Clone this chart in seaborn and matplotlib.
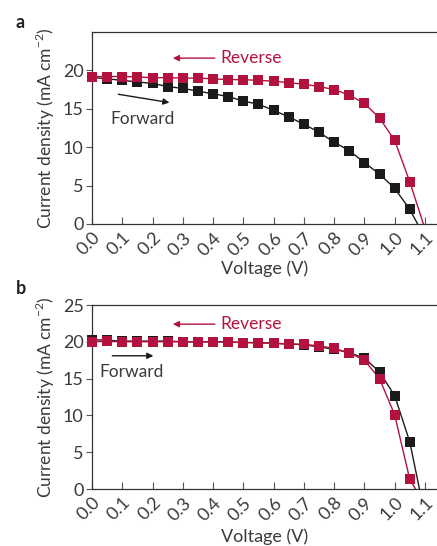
import matplotlib
matplotlib.use("Agg")
import matplotlib.pyplot as plt
import seaborn as sns
import numpy as np

sns.set_theme(style="white")
plt.rcParams['font.family'] = ['Lato', 'DejaVu Sans']
plt.rcParams['mathtext.fontset'] = 'custom'
plt.rcParams['mathtext.rm'] = 'Lato'

# ---- data ----
voltage = [0.00, 0.05, 0.10, 0.15, 0.20, 0.25, 0.30, 0.35, 0.40, 0.45, 0.50,
           0.55, 0.60, 0.65, 0.70, 0.75, 0.80, 0.85, 0.90, 0.95, 1.00, 1.05]

fwd_a = [19.1, 18.9, 18.7, 18.5, 18.3, 17.9, 17.65, 17.3, 16.95, 16.6, 16.0,
         15.6, 14.8, 13.95, 13.0, 11.95, 10.65, 9.55, 8.0, 6.5, 4.65, 1.9]
rev_a = [19.2, 19.2, 19.2, 19.15, 19.05, 19.05, 19.0, 19.0, 18.9, 18.8, 18.8,
         18.7, 18.6, 18.4, 18.2, 17.9, 17.5, 16.8, 15.7, 13.8, 10.9, 5.5]
voc_fwd_a = 1.076
voc_rev_a = 1.095

fwd_b = [20.3, 20.2, 20.1, 20.1, 20.1, 20.1, 20.0, 20.0, 20.0, 20.0, 19.9,
         19.9, 19.8, 19.7, 19.6, 19.3, 19.0, 18.5, 17.8, 15.9, 12.7, 6.4]
rev_b = [20.0, 20.05, 20.0, 20.0, 20.0, 20.0, 20.0, 20.0, 20.0, 19.95, 19.9,
         19.85, 19.8, 19.7, 19.65, 19.45, 19.1, 18.5, 17.5, 15.0, 10.1, 1.3]
voc_fwd_b = 1.082
voc_rev_b = 1.069

xticks = [0.0, 0.1, 0.2, 0.3, 0.4, 0.5, 0.6, 0.7, 0.8, 0.9, 1.0, 1.1]
xticklabels = ["0.0", "0.1", "0.2", "0.3", "0.4", "0.5", "0.6", "0.7", "0.8", "0.9", "1.0", "1.1"]
yticks_a = [0, 5, 10, 15, 20]
yticks_b = [0, 5, 10, 15, 20, 25]

RED = "#B3123F"
BLACK = "#1b1b1b"
TXT = "#3a3a3a"
FS = 13

fig = plt.figure(figsize=(4.37, 5.46), dpi=100)
W, H = 437, 546
ax_a = fig.add_axes([92 / W, 1 - 224 / H, 345 / W, 192 / H])
ax_b = fig.add_axes([92 / W, 1 - 489 / H, 345 / W, 184 / H])


def draw(ax, fwd, rev, voc_f, voc_r, yticks):
    for j, voc, col in [(fwd, voc_f, BLACK), (rev, voc_r, RED)]:
        sns.lineplot(x=voltage + [voc], y=j + [0.0], ax=ax, color=col, lw=1.0,
                     sort=False, estimator=None)
        sns.scatterplot(x=voltage, y=j, ax=ax, color=col, marker='s', s=62,
                        edgecolor=col, linewidth=0, clip_on=False, zorder=3)
    ax.set_xlim(0, 1.14)
    ax.set_ylim(0, 25)
    ax.set_xticks(xticks)
    ax.set_xticklabels(xticklabels, rotation=45, ha='right', rotation_mode='anchor')
    ax.set_yticks(yticks)
    ax.set_yticklabels([str(v) for v in yticks])
    ax.tick_params(axis='x', direction='in', length=5, width=0.8, color='#555555',
                   labelsize=FS, labelcolor=TXT, pad=4)
    ax.tick_params(axis='y', direction='out', length=4, width=0.8, color='#555555',
                   labelsize=FS, labelcolor=TXT, pad=2, left=True)
    ax.tick_params(axis='x', bottom=True)
    for s in ['top', 'left', 'bottom']:
        ax.spines[s].set_visible(True)
        ax.spines[s].set_color('#333333')
        ax.spines[s].set_linewidth(0.9)
    ax.spines['right'].set_visible(False)
    ax.set_xlabel("Voltage (V)", fontsize=FS, color=TXT)
    ax.set_ylabel(r"Current density (mA cm$^{-2}$)", fontsize=12.5, color=TXT)
    ax.yaxis.set_label_coords(-0.10, 0.5)
    ax.grid(False)


draw(ax_a, fwd_a, rev_a, voc_fwd_a, voc_rev_a, yticks_a)
draw(ax_b, fwd_b, rev_b, voc_fwd_b, voc_rev_b, yticks_b)
ax_a.xaxis.set_label_coords(0.5, -0.19)
ax_b.xaxis.set_label_coords(0.5, -0.213)

AFS = 12.5
# annotations panel a
ax_a.annotate("", xy=(0.258, 21.6), xytext=(0.415, 21.6),
              arrowprops=dict(arrowstyle='-|>', color=RED, lw=1.0, mutation_scale=9))
ax_a.text(0.423, 21.6, "Reverse", color=RED, fontsize=AFS, va='center', ha='left')
ax_a.annotate("", xy=(0.265, 15.75), xytext=(0.078, 16.95),
              arrowprops=dict(arrowstyle='-|>', color=BLACK, lw=1.0, mutation_scale=9))
ax_a.text(0.060, 13.7, "Forward", color=TXT, fontsize=AFS, va='center', ha='left')

# annotations panel b
ax_b.annotate("", xy=(0.258, 22.4), xytext=(0.415, 22.4),
              arrowprops=dict(arrowstyle='-|>', color=RED, lw=1.0, mutation_scale=9))
ax_b.text(0.423, 22.4, "Reverse", color=RED, fontsize=AFS, va='center', ha='left')
ax_b.annotate("", xy=(0.212, 18.1), xytext=(0.058, 18.1),
              arrowprops=dict(arrowstyle='-|>', color=BLACK, lw=1.0, mutation_scale=9))
ax_b.text(0.023, 15.9, "Forward", color=TXT, fontsize=AFS, va='center', ha='left')

fig.text(16 / W, 1 - 22 / H, "a", fontsize=13, fontweight='bold', color='#222222', va='center')
fig.text(16 / W, 1 - 289 / H, "b", fontsize=13, fontweight='bold', color='#222222', va='center')

fig.savefig("out.png", dpi=100)
